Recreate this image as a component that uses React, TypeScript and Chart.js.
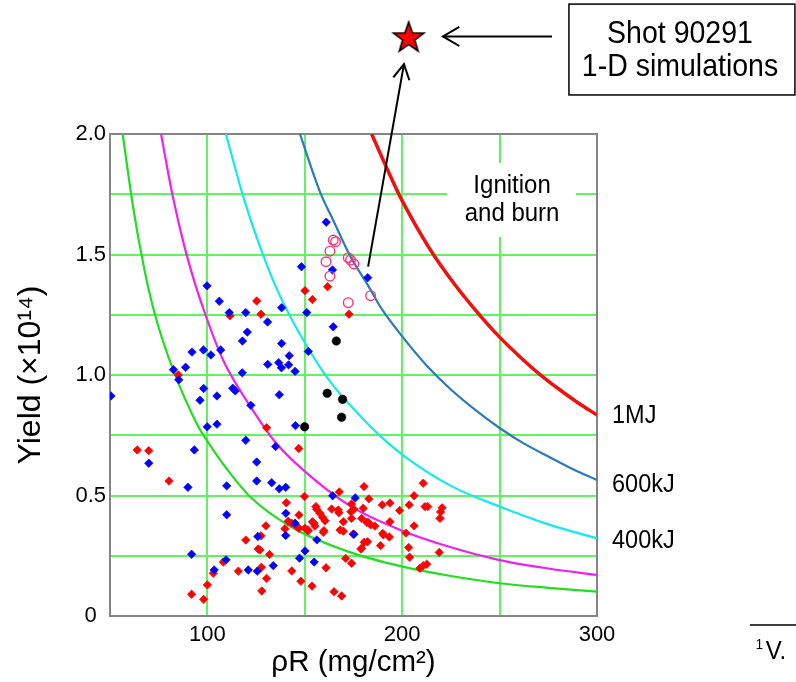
import React, { useEffect, useRef } from 'react';
import { Chart, registerables } from 'chart.js';

Chart.register(...registerables);

// ---------- axes ----------
const X_MIN = 50;
const X_MAX = 300;
const X_STEP = 50;
const Y_MIN = 0;
const Y_MAX = 2;
const Y_STEP = 0.25;
const X_TICK_LABELS = [100, 200, 300];
const Y_TICK_LABELS = [0, 0.5, 1, 1.5, 2];
const X_TITLE = 'ρR (mg/cm²)';
const Y_TITLE = 'Yield (×10¹⁴)';

// ---------- measured shots ----------
const redShots: [number, number][] = [
  [150.1, 1.35], [161.7, 1.366], [153.9, 1.313], [125.3, 1.307], [127.5, 1.252], [111.6, 1.246],
  [172.7, 1.252], [85.1, 1.0], [130.4, 0.781], [64.0, 0.689], [69.9, 0.686], [146.9, 0.695],
  [80.3, 0.56], [140.5, 0.47], [149.8, 0.496], [147.0, 0.419], [141.5, 0.393], [143.3, 0.385],
  [145.8, 0.371], [139.8, 0.362], [130.0, 0.374], [127.5, 0.333], [119.7, 0.315], [126.1, 0.278],
  [127.0, 0.274], [131.9, 0.255], [108.2, 0.224], [103.0, 0.177], [100.0, 0.129], [91.9, 0.09],
  [98.1, 0.069], [115.9, 0.186], [127.7, 0.202], [130.4, 0.156], [127.9, 0.104], [143.3, 0.187],
  [148.0, 0.144], [153.7, 0.124], [147.0, 0.364], [150.1, 0.364], [151.8, 0.354], [153.9, 0.391],
  [155.2, 0.373], [156.1, 0.443], [157.8, 0.426], [159.1, 0.41], [160.4, 0.395], [159.8, 0.354],
  [163.8, 0.444], [160.9, 0.2], [165.0, 0.101], [168.9, 0.083], [180.4, 0.537], [167.7, 0.515],
  [182.9, 0.486], [210.8, 0.551], [206.1, 0.499], [189.8, 0.461], [193.7, 0.469], [203.6, 0.461],
  [211.7, 0.454], [213.1, 0.454], [220.5, 0.449], [219.7, 0.432], [219.4, 0.405], [198.7, 0.438],
  [167.2, 0.44], [167.5, 0.428], [173.7, 0.433], [180.0, 0.447], [174.0, 0.465], [175.2, 0.443],
  [169.8, 0.391], [174.0, 0.405], [179.2, 0.405], [182.6, 0.388], [186.0, 0.373], [193.7, 0.391],
  [168.1, 0.357], [169.8, 0.352], [190.3, 0.337], [193.4, 0.328], [206.1, 0.374], [201.9, 0.344],
  [180.5, 0.306], [182.2, 0.308], [179.2, 0.281], [188.9, 0.292], [203.3, 0.284], [203.8, 0.244],
  [219.0, 0.264], [171.0, 0.239], [174.0, 0.219], [209.1, 0.198], [210.8, 0.209], [212.6, 0.215],
  [155.7, 0.454], [154.7, 0.385], [151.3, 0.357], [159.5, 0.347], [174.8, 0.34], [181.8, 0.389],
  [183.8, 0.378], [190.0, 0.343], [178.8, 0.278],
];

const blueShots: [number, number][] = [
  [161.0, 1.634], [148.3, 1.449], [164.2, 1.436], [182.3, 1.404], [99.8, 1.37], [106.1, 1.306],
  [111.2, 1.259], [119.7, 1.259], [138.1, 1.279], [151.0, 1.259], [130.9, 1.22], [164.6, 1.2],
  [120.5, 1.178], [118.0, 1.141], [138.1, 1.131], [151.8, 1.098], [92.1, 1.095], [98.0, 1.104],
  [101.8, 1.083], [106.8, 1.104], [88.8, 1.032], [82.6, 1.022], [131.0, 1.044], [136.6, 1.051],
  [142.0, 1.08], [141.7, 1.042], [138.0, 1.03], [145.0, 1.015], [117.9, 1.009], [85.3, 0.98],
  [50.5, 0.913], [98.1, 0.944], [104.9, 0.913], [96.2, 0.895], [113.0, 0.945], [114.3, 0.934],
  [122.3, 0.874], [136.9, 0.918], [99.9, 0.785], [104.9, 0.796], [145.2, 0.79], [119.7, 0.729],
  [69.9, 0.634], [93.3, 0.689], [135.0, 0.703], [125.3, 0.639], [90.0, 0.534], [109.9, 0.54],
  [125.3, 0.56], [133.0, 0.553], [136.9, 0.528], [140.2, 0.534], [109.9, 0.42], [140.3, 0.426],
  [145.0, 0.385], [140.2, 0.334], [125.9, 0.33], [91.9, 0.256], [109.6, 0.233], [103.5, 0.191],
  [121.0, 0.191], [125.6, 0.186], [133.8, 0.209], [147.3, 0.24], [150.1, 0.27], [154.8, 0.224],
  [156.2, 0.316], [164.3, 0.499], [175.9, 0.49], [175.2, 0.339],
];

const blackShots: [number, number][] = [
  [166.2, 1.141], [161.5, 0.924], [169.4, 0.899], [168.9, 0.825], [149.9, 0.785],
];

const simulatedShots: [number, number][] = [
  [164.6, 1.56], [165.8, 1.553], [162.9, 1.514], [160.9, 1.47], [172.3, 1.487], [173.5, 1.477],
  [175.2, 1.461], [162.9, 1.41], [183.8, 1.329], [172.3, 1.3],
];

const shot90291: [number, number][] = [[203.3, 2.398]];

// ---------- ignition-energy curves ----------
const curve1MJ: [number, number][] = [
  [184.3, 2.0], [192, 1.86], [198.9, 1.74], [207, 1.62], [216, 1.5], [226, 1.386], [236.5, 1.28],
  [250, 1.157], [260.5, 1.075], [270, 1.007], [280, 0.944], [290, 0.886], [300, 0.834],
];
const curve600kJ: [number, number][] = [
  [147.5, 2.0], [157.8, 1.76], [165, 1.635], [173.2, 1.495], [182.6, 1.37], [189.4, 1.275], [200, 1.16],
  [213, 1.035], [225, 0.94], [237, 0.858], [250, 0.78], [263, 0.713], [276, 0.658], [288, 0.608], [300, 0.564],
];
const curve400kJ: [number, number][] = [
  [109.5, 2.0], [118.4, 1.74], [128.7, 1.495], [136, 1.35], [144, 1.22], [150, 1.135], [158, 1.03],
  [165, 0.952], [175, 0.86], [187, 0.76], [200, 0.67], [225, 0.54], [250, 0.454], [275, 0.38], [300, 0.322],
];
const curveMagenta: [number, number][] = [
  [76.2, 2.0], [82, 1.75], [88, 1.54], [94, 1.37], [99, 1.25], [105, 1.12], [110, 1.03], [122, 0.87],
  [135, 0.72], [150, 0.6], [173, 0.458], [199, 0.357], [225, 0.285], [250, 0.232], [275, 0.197], [300, 0.17],
];
const curveGreen: [number, number][] = [
  [56.5, 2.0], [62, 1.69], [67.6, 1.44], [73.1, 1.25], [82.5, 1.02], [95.3, 0.786], [99.6, 0.73],
  [110, 0.61], [121.9, 0.495], [144, 0.365], [173, 0.265], [199, 0.207], [225, 0.166], [250, 0.136],
  [275, 0.117], [300, 0.101],
];

const CURVE_LABELS = ['1MJ', '600kJ', '400kJ'];
const CURVE_LABEL_Y = [0.83, 0.545, 0.312];

const REGION_LABEL = ['Ignition', 'and burn'];
const BOX_LABEL = ['Shot 90291', '1-D simulations'];
const FOOTNOTE = ['1', 'V.'];

// annotation anchors, in data units
const ANN = {
  curveLabelX: 307.7,
  regionX: 256.4,
  regionY: [1.784, 1.668],
  regionBg: [223, 289.2, 1.88, 1.573],
  box: [285.6, 401.6, 2.539, 2.162],
  boxTextX: 342.6,
  boxTextY: [2.415, 2.278],
  hArrow: [276.9, 2.405, 220.9, 2.405],
  dArrow: [182.5, 1.45, 200.9, 2.29],
  footLine: [378.5, 405, -0.037],
  footSup: [383.4, -0.12],
  footText: [386.6, -0.149],
};

const FONT = '"Liberation Sans", Arial, Helvetica, sans-serif';
const GRID = '#62f262';
const FRAME = '#858585';

const toXY = (a: [number, number][]) => a.map(([x, y]) => ({ x, y }));

function makeStar(R: number) {
  const c = document.createElement('canvas');
  const size = Math.ceil(R * 2 + 4);
  c.width = size;
  c.height = size;
  const g = c.getContext('2d')!;
  const cx = size / 2;
  const cy = size / 2;
  g.beginPath();
  for (let i = 0; i < 10; i++) {
    const r = i % 2 === 0 ? R : R * 0.4;
    const a = -Math.PI / 2 + (i * Math.PI) / 5;
    g.lineTo(cx + r * Math.cos(a), cy + r * Math.sin(a));
  }
  g.closePath();
  g.fillStyle = '#ff0000';
  g.fill();
  g.lineWidth = 1.6;
  g.strokeStyle = '#000';
  g.stroke();
  return c;
}

function sText(ctx: CanvasRenderingContext2D, s: string, x: number, y: number, size: number, align: CanvasTextAlign = 'center', sy = 1.1) {
  ctx.save();
  ctx.translate(x, y);
  ctx.scale(1, sy);
  ctx.font = `${size}px ${FONT}`;
  ctx.textAlign = align;
  ctx.textBaseline = 'middle';
  ctx.fillStyle = '#000';
  ctx.fillText(s, 0, 0);
  ctx.restore();
}

function arrow(ctx: CanvasRenderingContext2D, x1: number, y1: number, x2: number, y2: number, head = 19, spread = 0.53) {
  ctx.beginPath();
  ctx.moveTo(x1, y1);
  ctx.lineTo(x2, y2);
  ctx.stroke();
  const ang = Math.atan2(y2 - y1, x2 - x1);
  ctx.beginPath();
  ctx.moveTo(x2 - head * Math.cos(ang - spread), y2 - head * Math.sin(ang - spread));
  ctx.lineTo(x2, y2);
  ctx.lineTo(x2 - head * Math.cos(ang + spread), y2 - head * Math.sin(ang + spread));
  ctx.stroke();
}

const annotations = {
  id: 'annotations',
  beforeDatasetsDraw(chart: any) {
    const { ctx, chartArea: a } = chart;
    const X = chart.scales.x;
    const Y = chart.scales.y;
    const px = (v: number) => X.getPixelForValue(v);
    const py = (v: number) => Y.getPixelForValue(v);
    ctx.save();
    ctx.strokeStyle = FRAME;
    ctx.lineWidth = 2;
    ctx.strokeRect(a.left, a.top, a.right - a.left, a.bottom - a.top);
    const [l, r, t, b] = ANN.regionBg;
    ctx.fillStyle = '#fff';
    ctx.fillRect(px(l), py(t), px(r) - px(l), py(b) - py(t));
    REGION_LABEL.forEach((s, i) => sText(ctx, s, px(ANN.regionX), py(ANN.regionY[i]), 24));
    ctx.restore();
  },
  afterDatasetsDraw(chart: any) {
    // the shot 90291 marker lies above the plotting frame: let the library's point element draw it unclipped
    const meta = chart.getDatasetMeta(0);
    const full = { left: 0, top: 0, right: chart.width, bottom: chart.height };
    meta.data.forEach((el: any) => el.draw(chart.ctx, full));
  },
  afterDraw(chart: any) {
    const { ctx } = chart;
    const X = chart.scales.x;
    const Y = chart.scales.y;
    const px = (v: number) => X.getPixelForValue(v);
    const py = (v: number) => Y.getPixelForValue(v);
    ctx.save();
    CURVE_LABELS.forEach((s, i) => sText(ctx, s, px(ANN.curveLabelX), py(CURVE_LABEL_Y[i]), 23.5, 'left'));
    // box
    const [bl, br, bt, bb] = ANN.box;
    ctx.strokeStyle = '#000';
    ctx.lineWidth = 1.5;
    ctx.strokeRect(px(bl), py(bt), px(br) - px(bl), py(bb) - py(bt));
    BOX_LABEL.forEach((s, i) => sText(ctx, s, px(ANN.boxTextX), py(ANN.boxTextY[i]), 28.5));
    // arrows
    ctx.lineWidth = 2;
    const h = ANN.hArrow;
    arrow(ctx, px(h[0]), py(h[1]), px(h[2]), py(h[3]));
    const d = ANN.dArrow;
    arrow(ctx, px(d[0]), py(d[1]), px(d[2]), py(d[3]), 17, 0.5);
    // footnote
    const f = ANN.footLine;
    ctx.lineWidth = 1.5;
    ctx.beginPath();
    ctx.moveTo(px(f[0]), py(f[2]));
    ctx.lineTo(px(f[1]), py(f[2]));
    ctx.stroke();
    sText(ctx, FOOTNOTE[0], px(ANN.footSup[0]), py(ANN.footSup[1]), 13, 'center');
    sText(ctx, FOOTNOTE[1], px(ANN.footText[0]), py(ANN.footText[1]), 24, 'left');
    ctx.restore();
  },
};

export default function App() {
  const ref = useRef<HTMLCanvasElement>(null);
  useEffect(() => {
    const canvas = ref.current!;
    const star = makeStar(16);
    const curve = (data: [number, number][], color: string, width: number) => ({
      data: toXY(data),
      showLine: true,
      borderColor: color,
      backgroundColor: color,
      borderWidth: width,
      pointRadius: 0,
      cubicInterpolationMode: 'monotone' as const,
      fill: false,
    });
    const chart = new Chart(canvas, {
      type: 'scatter',
      data: {
        datasets: [
          { label: 'Shot 90291', data: toXY(shot90291), pointStyle: star as any, pointRadius: 16, clip: false as any },
          { label: 'simulations', data: toXY(simulatedShots), pointStyle: 'circle', pointRadius: 4.8, borderWidth: 1.4, borderColor: '#f5377a', backgroundColor: 'rgba(255,255,255,0)' },
          { label: 'black', data: toXY(blackShots), pointStyle: 'circle', pointRadius: 4.3, borderWidth: 0.5, borderColor: '#000', backgroundColor: '#000' },
          { label: 'blue', data: toXY(blueShots), pointStyle: 'rectRot', pointRadius: 4.2, borderWidth: 0.8, borderColor: '#1010f0', backgroundColor: '#0000ff' },
          { label: 'red', data: toXY(redShots), pointStyle: 'rectRot', pointRadius: 4.2, borderWidth: 0.8, borderColor: '#f01010', backgroundColor: '#ff0000' },
          { label: '1MJ', ...curve(curve1MJ, '#f01010', 3.5) },
          { label: '600kJ', ...curve(curve600kJ, '#2a7bb8', 2.2) },
          { label: '400kJ', ...curve(curve400kJ, '#16e8ee', 2.2) },
          { label: 'magenta', ...curve(curveMagenta, '#f020f0', 2.2) },
          { label: 'green', ...curve(curveGreen, '#22dd22', 2.2) },
        ] as any,
      },
      options: {
        animation: false,
        responsive: false,
        devicePixelRatio: 1,
        layout: { padding: { top: 134, right: 199, left: 0, bottom: 0 } },
        plugins: { legend: { display: false }, tooltip: { enabled: false } },
        scales: {
          x: {
            type: 'linear',
            min: X_MIN,
            max: X_MAX,
            afterFit: (s: any) => { s.height = 66; },
            ticks: {
              stepSize: X_STEP,
              autoSkip: false,
              maxRotation: 0,
              padding: 6,
              color: '#000',
              font: { family: FONT, size: 22 },
              callback: (v: any) => (X_TICK_LABELS.includes(Number(v)) ? String(v) : ''),
            },
            grid: { color: GRID, lineWidth: 2, drawTicks: false },
            border: { color: FRAME, width: 2 },
            title: { display: true, text: X_TITLE, color: '#000', font: { family: FONT, size: 29.5, lineHeight: 1.2 }, padding: { top: 0, bottom: 1 } },
          },
          y: {
            type: 'linear',
            min: Y_MIN,
            max: Y_MAX,
            afterFit: (s: any) => { s.width = 110; },
            ticks: {
              stepSize: Y_STEP,
              autoSkip: false,
              padding: 4,
              crossAlign: 'center',
              color: '#000',
              font: { family: FONT, size: 22 },
              callback: (v: any) => {
                const n = Number(v);
                if (!Y_TICK_LABELS.some((t) => Math.abs(t - n) < 1e-9)) return '';
                return n === 0 ? '0' : n.toFixed(1);
              },
            },
            grid: { color: GRID, lineWidth: 2, drawTicks: false },
            border: { color: FRAME, width: 2 },
            title: { display: true, text: Y_TITLE, color: '#000', font: { family: FONT, size: 32, lineHeight: 1.2 }, padding: { top: 12, bottom: 0 } },
          },
        },
      } as any,
      plugins: [annotations],
    });
    return () => chart.destroy();
  }, []);
  return (
    <div style={{ position: 'fixed', left: 0, top: 0, width: 796, height: 682, background: '#fff' }}>
      <canvas ref={ref} width={796} height={682} style={{ display: 'block', width: 796, height: 682 }} />
    </div>
  );
}
